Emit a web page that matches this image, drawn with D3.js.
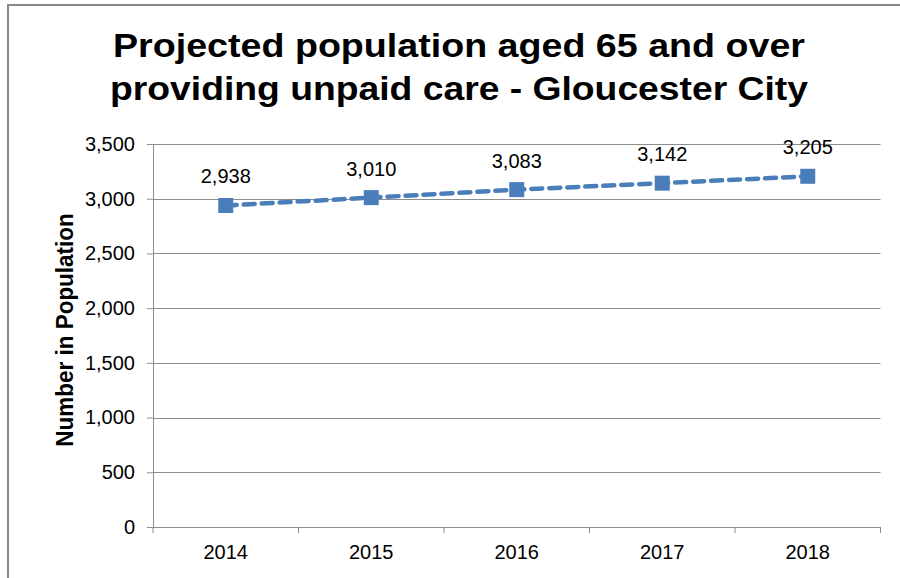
<!DOCTYPE html>
<html><head><meta charset="utf-8">
<script src="https://cdn.jsdelivr.net/npm/d3@7"></script>
<style>body{margin:0;background:#fff}svg{display:block}text{font-family:"Liberation Sans",Arial,sans-serif}</style>
</head><body>
<script>
const categories = ["2014","2015","2016","2017","2018"];
const values = [2938, 3010, 3083, 3142, 3205];
const yTicks = [0,500,1000,1500,2000,2500,3000,3500];
const titleLines = ["Projected population aged 65 and over","providing unpaid care - Gloucester City"];
const yTitle = "Number in Population";

(function(){
const W=900,H=578;
const svg=d3.select("body").append("svg").attr("width",W).attr("height",H);
svg.append("rect").attr("x",8).attr("y",5).attr("width",W).attr("height",H).attr("fill","#fff").attr("stroke","#878787").attr("stroke-width",2);

const pL=153, pR=880.5, pT=144, pB=527;
const x=d3.scaleBand().domain(categories).range([pL,pR]);
const y=d3.scaleLinear().domain([0,3500]).range([pB,pT]);
const grid="#8c8c8c";
const ff="Liberation Sans, Arial, sans-serif";

svg.append("g").selectAll("line").data(yTicks.filter(d=>d>0)).join("line")
 .attr("x1",pL).attr("x2",pR).attr("y1",d=>Math.round(y(d))+0.5).attr("y2",d=>Math.round(y(d))+0.5)
 .attr("stroke",grid).attr("stroke-width",1);

const ya=svg.append("g").attr("transform",`translate(${pL},0)`)
 .call(d3.axisLeft(y).tickValues(yTicks).tickFormat(d3.format(",")).tickSize(6).tickPadding(12));
ya.select(".domain").attr("stroke",grid);
ya.selectAll(".tick line").attr("stroke",grid);
ya.selectAll("text").attr("font-size",20).attr("fill","#000").attr("font-family",ff);

const xa=svg.append("g").attr("transform",`translate(0,${pB})`)
 .call(d3.axisBottom(x).tickSize(0).tickPadding(18));
xa.select(".domain").attr("stroke",grid).attr("d",`M${pL},0.5H${pR}`);
xa.selectAll("text").attr("font-size",20).attr("fill","#000").attr("font-family",ff);
const bounds=[...categories.map(c=>x(c)),pR];
svg.append("g").selectAll("line").data(bounds).join("line")
 .attr("x1",d=>d).attr("x2",d=>d).attr("y1",pB).attr("y2",pB+6).attr("stroke",grid);

const cx=d=>x(d)+x.bandwidth()/2;
const line=d3.line().x((d,i)=>cx(categories[i])).y(d=>y(d));
svg.append("path").datum(values).attr("d",line).attr("fill","none")
 .attr("stroke","#4a7ebb").attr("stroke-width",4.5).attr("stroke-dasharray","11,7").attr("stroke-linecap","round");
svg.append("g").selectAll("rect").data(values).join("rect")
 .attr("x",(d,i)=>cx(categories[i])-7.5).attr("y",d=>y(d)-7.5).attr("width",15).attr("height",15).attr("fill","#4a7ebb");
svg.append("g").selectAll("text").data(values).join("text")
 .attr("x",(d,i)=>cx(categories[i])).attr("y",d=>y(d)-22).attr("text-anchor","middle")
 .attr("font-size",20).attr("fill","#000").text(d=>d3.format(",")(d));

const tl=[692,698];
svg.append("g").selectAll("text").data(titleLines).join("text")
 .attr("x",(d,i)=>459-tl[i]/2).attr("y",(d,i)=>57+i*43)
 .attr("textLength",(d,i)=>tl[i]).attr("lengthAdjust","spacingAndGlyphs")
 .attr("font-size",33).attr("font-weight","bold").attr("fill","#000").text(d=>d);

svg.append("text").attr("transform",`translate(73,330) scale(1.08,1) rotate(-90)`).attr("text-anchor","middle")
 .attr("font-size",22.5).attr("font-weight","bold").attr("fill","#000").text(yTitle);
})();
</script>
</body></html>
